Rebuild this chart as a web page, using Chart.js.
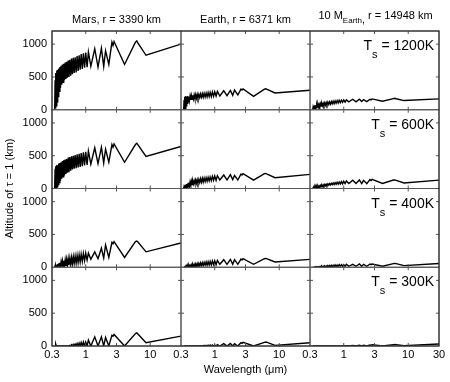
<!DOCTYPE html>
<html lang="en">
<head>
<meta charset="UTF-8" />
<title>Altitude of tau = 1</title>
<script src="https://cdn.jsdelivr.net/npm/chart.js"></script>
<style>
body { margin: 0; background: #fff; }
</style>
</head>
<body>
<canvas id="myChart" width="450" height="382"></canvas>
<script>
// wavelengths in micron, shared by all panels
const wavelength = [
0.33,
0.335, 0.34, 0.345, 0.35, 0.356, 0.362, 0.368, 0.375, 0.382, 0.39,
0.398, 0.406, 0.415, 0.425, 0.435, 0.445, 0.456, 0.468, 0.48, 0.493,
0.506, 0.52, 0.535, 0.55, 0.567, 0.585, 0.603, 0.622, 0.642, 0.663,
0.685, 0.71, 0.735, 0.762, 0.79, 0.82, 0.85, 0.885, 0.92, 0.96,
1.0, 1.05, 1.1, 1.2, 1.38, 1.55, 1.75, 1.9, 2.03, 2.28,
2.55, 2.65, 2.75, 4.0, 5.9, 6.2, 6.5, 8.6, 30
];
const xTicks = [0.3, 1, 3, 10, 30];
const xTickLabels = ["0.3", "1", "3", "10", "30"];
const yTicks = [0, 500, 1000];
const yTickLabels = ["0", "500", "1000"];
const tempLabels = ["1200K", "600K", "400K", "300K"];

// altitude of tau = 1 (km)
const mars1200 = [
0,
450, 20, 560, 60, 600, 120, 610, 200, 630, 280,
650, 330, 670, 380, 690, 420, 700, 450, 720, 470,
730, 490, 750, 500, 760, 520, 780, 540, 790, 560,
800, 570, 820, 590, 830, 610, 850, 620, 860, 640,
870, 650, 880, 660, 930, 650, 940, 660, 900, 690,
1030, 980, 1040, 690, 1030, 1050, 1010, 830, 1000
];
const mars600 = [
0,
300, 0, 340, 10, 360, 30, 350, 60, 380, 90,
390, 120, 400, 150, 420, 180, 430, 200, 440, 220,
450, 240, 470, 250, 480, 270, 490, 290, 500, 300,
510, 310, 520, 320, 530, 330, 540, 340, 550, 350,
560, 360, 570, 370, 620, 380, 630, 390, 600, 400,
670, 630, 680, 400, 670, 690, 660, 490, 640
];
const mars400 = [
0,
20, 0, 30, 0, 40, 0, 50, 0, 60, 0,
70, 0, 80, 10, 90, 10, 100, 20, 110, 20,
120, 30, 130, 30, 140, 40, 150, 50, 160, 60,
170, 60, 180, 70, 190, 80, 200, 90, 210, 100,
215, 110, 215, 120, 235, 130, 290, 140, 340, 150,
380, 360, 390, 150, 390, 400, 380, 235, 370
];
const mars300 = [
0,
0, 0, 30, 0, 0, 0, 0, 0, 0, 0,
0, 0, 0, 0, 0, 0, 0, 0, 0, 0,
0, 0, 5, 0, 10, 0, 20, 0, 25, 0,
30, 0, 40, 0, 45, 0, 55, 0, 60, 0,
60, 0, 90, 0, 140, 0, 140, 0, 130, 0,
165, 150, 175, 0, 190, 200, 180, 50, 150
];
const earth1200 = [
0,
150, 0, 200, 20, 210, 60, 200, 100, 210, 120,
200, 140, 210, 150, 215, 160, 220, 165, 225, 170,
230, 175, 235, 180, 235, 185, 240, 190, 245, 190,
250, 195, 255, 195, 260, 200, 265, 200, 270, 205,
275, 210, 280, 210, 290, 215, 295, 220, 300, 225,
315, 300, 318, 205, 315, 320, 310, 256, 297
];
const earth600 = [
0,
30, 0, 50, 0, 60, 10, 70, 20, 80, 30,
90, 40, 100, 50, 110, 60, 115, 70, 120, 75,
130, 80, 135, 85, 140, 90, 150, 95, 155, 100,
160, 105, 165, 110, 170, 115, 175, 120, 185, 125,
190, 125, 195, 130, 205, 130, 210, 135, 200, 130,
220, 205, 225, 128, 225, 230, 220, 165, 215
];
const earth400 = [
0,
0, 0, 5, 0, 10, 0, 15, 0, 20, 0,
25, 0, 30, 5, 35, 5, 40, 10, 45, 10,
50, 15, 55, 15, 60, 20, 65, 25, 70, 25,
75, 30, 80, 30, 85, 35, 90, 35, 95, 40,
100, 40, 105, 45, 115, 45, 120, 45, 115, 45,
125, 110, 130, 45, 130, 135, 128, 80, 120
];
const earth300 = [
0,
0, 0, 0, 0, 0, 0, 0, 0, 0, 0,
0, 0, 0, 0, 0, 0, 0, 0, 0, 0,
0, 0, 0, 0, 0, 0, 5, 0, 5, 0,
10, 0, 10, 0, 12, 0, 15, 0, 15, 0,
15, 0, 20, 0, 35, 0, 40, 0, 35, 0,
50, 40, 55, 0, 55, 60, 55, 10, 50
];
const super1200 = [
0,
40, 0, 60, 10, 70, 20, 70, 30, 75, 40,
80, 45, 85, 50, 90, 55, 95, 60, 100, 65,
105, 70, 110, 75, 115, 80, 120, 85, 125, 90,
130, 95, 135, 100, 140, 105, 145, 110, 145, 115,
150, 115, 150, 120, 160, 120, 160, 125, 155, 125,
160, 150, 165, 130, 170, 175, 168, 140, 165
];
const super600 = [
0,
10, 0, 15, 0, 20, 0, 25, 5, 30, 10,
35, 15, 40, 20, 45, 25, 50, 30, 55, 35,
60, 40, 65, 45, 70, 50, 75, 55, 80, 60,
85, 60, 90, 65, 95, 65, 100, 70, 105, 70,
110, 75, 115, 75, 125, 75, 130, 75, 125, 75,
135, 120, 138, 77, 130, 132, 125, 85, 128
];
const super400 = [
0,
0, 0, 0, 0, 0, 0, 5, 0, 5, 0,
5, 0, 10, 0, 10, 0, 15, 0, 15, 0,
20, 0, 20, 5, 25, 5, 25, 5, 30, 10,
30, 10, 35, 10, 35, 10, 40, 15, 40, 15,
40, 15, 45, 15, 45, 15, 50, 15, 45, 15,
50, 40, 48, 15, 55, 57, 55, 25, 57
];
const super300 = [
0,
0, 0, 0, 0, 0, 0, 0, 0, 0, 0,
0, 0, 0, 0, 0, 0, 0, 0, 0, 0,
0, 0, 0, 0, 0, 0, 0, 0, 0, 0,
0, 0, 0, 0, 0, 0, 0, 0, 0, 0,
5, 0, 5, 0, 10, 0, 10, 0, 10, 0,
15, 10, 20, 0, 20, 22, 20, 5, 30
];

// rows = surface temperature, columns = planet
const panels = [
  [mars1200, earth1200, super1200],
  [mars600, earth600, super600],
  [mars400, earth400, super400],
  [mars300, earth300, super300]
];

const FONT = "'Liberation Sans', Arial, Helvetica, sans-serif";
Chart.defaults.font.family = FONT;
Chart.defaults.font.size = 11;
Chart.defaults.color = "#000";

// stacked left axes are laid out bottom-up, so row 0 uses the last one
const rowAxis = (r) => "y" + (3 - r);

const datasets = [];
panels.forEach((row, r) => {
  row.forEach((series, c) => {
    datasets.push({
      data: wavelength.map((w, i) => ({ x: w, y: series[i] })),
      xAxisID: "x" + c,
      yAxisID: rowAxis(r),
      borderColor: "#000",
      borderWidth: 1.4,
      pointRadius: 0,
      tension: 0,
      fill: false
    });
  });
});

const scales = {};
for (let c = 0; c < 3; c++) {
  scales["x" + c] = {
    type: "logarithmic",
    position: "bottom",
    stack: "cols",
    stackWeight: 1,
    min: 0.3,
    max: 30,
    grid: { display: false, drawTicks: false },
    border: { display: false },
    afterBuildTicks: (scale) => {
      scale.ticks = xTicks.map((v) => ({ value: v }));
    },
    afterFit: (scale) => { scale.height = 36; },
    ticks: {
      autoSkip: false,
      maxRotation: 0,
      padding: 2,
      callback: (v) => {
        const i = xTicks.indexOf(v);
        if (c < 2 && v === 30) return "";
        return i >= 0 ? xTickLabels[i] : "";
      }
    },
    title: {
      display: c === 1,
      text: "Wavelength (μm)",
      padding: { top: 0, bottom: 5 }
    }
  };
}
for (let r = 0; r < 4; r++) {
  scales["y" + r] = {
    type: "linear",
    position: "left",
    stack: "rows",
    stackWeight: 1,
    min: 0,
    max: 1200,
    grid: { display: false, drawTicks: false },
    border: { display: false },
    afterBuildTicks: (scale) => {
      scale.ticks = yTicks.map((v) => ({ value: v }));
    },
    afterFit: (scale) => { scale.width = 52; },
    ticks: {
      padding: 5,
      autoSkip: false,
      callback: (v) => {
        const i = yTicks.indexOf(v);
        return i >= 0 ? yTickLabels[i] : "";
      }
    }
  };
}

function drawSub(ctx, parts, x, y, align) {
  // parts: [text, size, dy]
  let total = 0;
  parts.forEach((p) => {
    ctx.font = p[1] + "px " + FONT;
    total += ctx.measureText(p[0]).width;
  });
  let cx = align === "right" ? x - total : align === "center" ? x - total / 2 : x;
  parts.forEach((p) => {
    ctx.font = p[1] + "px " + FONT;
    ctx.fillText(p[0], cx, y + p[2]);
    cx += ctx.measureText(p[0]).width;
  });
}

const panelPlugin = {
  id: "panels",
  afterDatasetsDraw(chart) {
    const ctx = chart.ctx;
    ctx.save();
    ctx.strokeStyle = "#555";
    ctx.lineWidth = 1;
    for (let c = 0; c < 3; c++) {
      const xs = chart.scales["x" + c];
      for (let r = 0; r < 4; r++) {
        const ys = chart.scales[rowAxis(r)];
        ctx.strokeRect(xs.left, ys.top, xs.right - xs.left, ys.bottom - ys.top);
        ctx.beginPath();
        xTicks.slice(1, 4).forEach((v) => {
          const px = xs.getPixelForValue(v);
          ctx.moveTo(px, ys.bottom); ctx.lineTo(px, ys.bottom - 3);
          ctx.moveTo(px, ys.top); ctx.lineTo(px, ys.top + 3);
        });
        yTicks.slice(1).forEach((v) => {
          const py = ys.getPixelForValue(v);
          ctx.moveTo(xs.left, py); ctx.lineTo(xs.left + 3, py);
          ctx.moveTo(xs.right, py); ctx.lineTo(xs.right - 3, py);
        });
        ctx.stroke();
      }
    }
    // darker outer frame
    ctx.strokeStyle = "#222";
    const a = chart.chartArea;
    ctx.strokeRect(a.left, a.top, a.right - a.left, a.bottom - a.top);

    ctx.fillStyle = "#000";
    ctx.textBaseline = "alphabetic";
    const cx = [0, 1, 2].map((c) => {
      const s = chart.scales["x" + c];
      return (s.left + s.right) / 2;
    });
    drawSub(ctx, [["Mars, r = 3390 km", 11, 0]], cx[0], 23, "center");
    drawSub(ctx, [["Earth, r = 6371 km", 11, 0]], cx[1], 23, "center");
    drawSub(ctx, [["10 M", 11, 0], ["Earth", 8, 4], [",", 11, 4], [" r = 14948 km", 11, 0]], cx[2] + 1, 19, "center");

    const right = chart.scales.x2.right - 5;
    tempLabels.forEach((t, r) => {
      const ys = chart.scales[rowAxis(r)];
      drawSub(ctx, [["T", 14, 0], ["s", 11, 8], [" = " + t, 14, 0]], right, ys.top + 19, "right");
    });

    ctx.translate(10, (a.top + a.bottom) / 2);
    ctx.rotate(-Math.PI / 2);
    ctx.textAlign = "center";
    ctx.textBaseline = "middle";
    ctx.font = "11px " + FONT;
    ctx.fillText("Altitude of τ = 1 (km)", 0, 0);
    ctx.restore();
  }
};

new Chart(document.getElementById("myChart"), {
  type: "line",
  data: { datasets },
  options: {
    responsive: false,
    animation: false,
    devicePixelRatio: 1,
    layout: { padding: { top: 31, right: 11, bottom: 0, left: 0 } },
    plugins: { legend: { display: false }, tooltip: { enabled: false } },
    scales
  },
  plugins: [panelPlugin]
});
</script>
</body>
</html>
